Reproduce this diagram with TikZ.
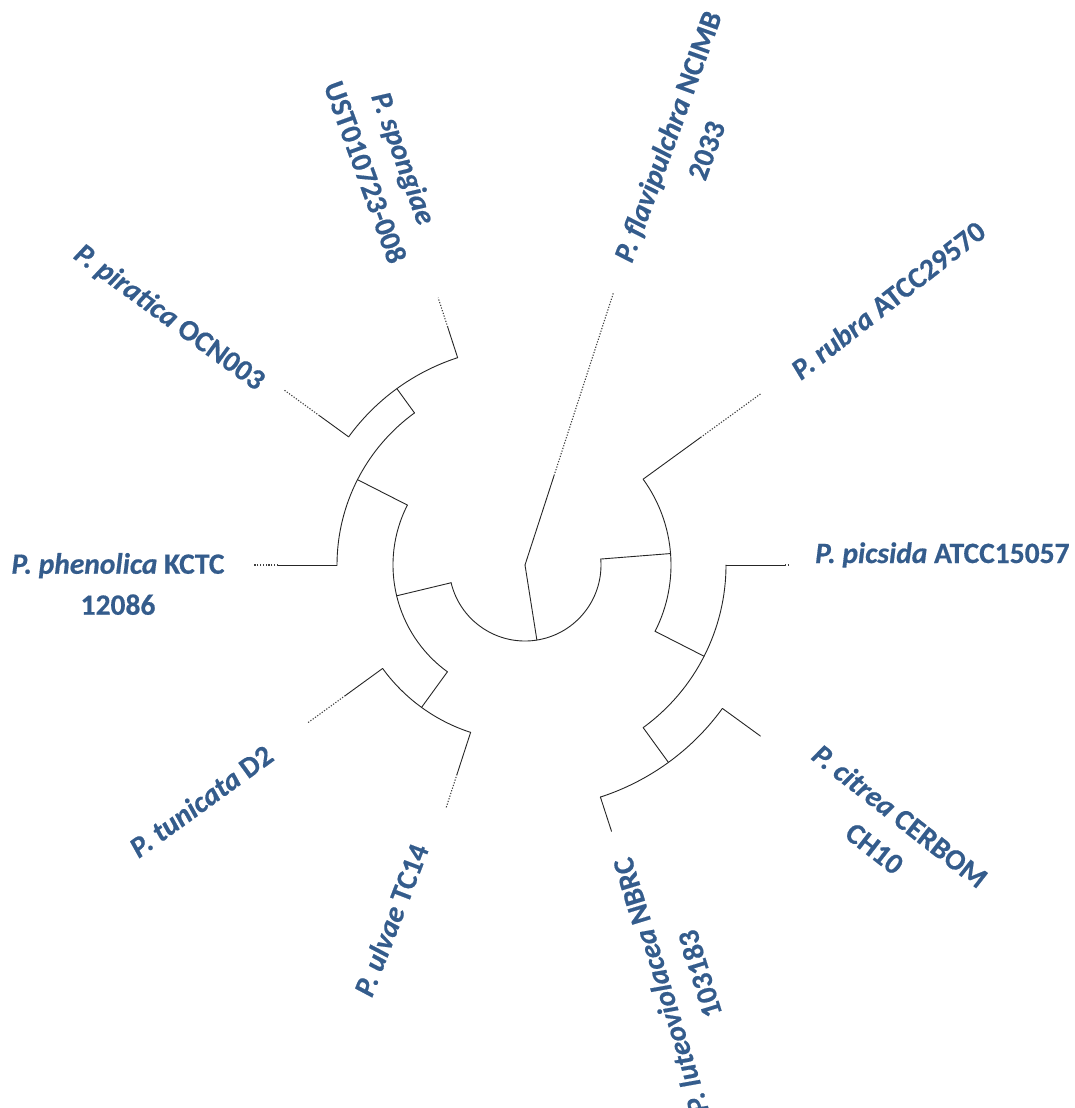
\documentclass[tikz,border=0pt]{standalone}
\usepackage{fontspec}
\newfontfamily\lblfont{Carlito}[BoldFeatures={FakeBold=0.5},BoldItalicFeatures={FakeBold=0.5}]
\definecolor{lblblue}{RGB}{52,92,140}
\begin{document}
\begin{tikzpicture}[x=1pt,y=1pt,
  br/.style={line width=0.9pt, draw=black!85, line cap=round},
  dt/.style={line width=1.1pt, draw=black!75, dash pattern=on 1.2pt off 1.6pt},
  lbl/.style={text=lblblue, font=\lblfont\bfseries\fontsize{29.5}{41}\selectfont, inner sep=0pt, align=center}]
\useasboundingbox (0,0) rectangle (1075,-1108);
\fill[white] (0,0) rectangle (1075,-1108);
\begin{scope}[shift={(525,-565)}]
% root and first split
\coordinate (R) at (0,0);
\coordinate (Bn) at (279:76pt);
\coordinate (Bs) at (193.5:76pt);
\draw[br] (R) -- (Bn);
\draw[br] (Bs) arc[start angle=193.5,end angle=364.5,radius=76pt];
% flavipulchra
\coordinate (flS) at (72:94pt);
\coordinate (flD) at (72:286pt);
\draw[br] (R) -- (flS);
\draw[dt] (flS) -- (flD);
% clade B1
\coordinate (B1a) at (4.5:76pt);
\coordinate (B1n) at (4.5:146pt);
\coordinate (B1s) at (-27:146pt);
\draw[br] (B1a) -- (B1n);
\draw[br] (B1s) arc[start angle=-27,end angle=36,radius=146pt];
% rubra
\coordinate (ruA) at (36:146pt);
\coordinate (ruS) at (36:217pt);
\coordinate (ruD) at (36:292pt);
\draw[br] (ruA) -- (ruS);
\draw[dt] (ruS) -- (ruD);
% clade B1b
\coordinate (B1bn) at (-27:201pt);
\coordinate (B1bs) at (-54:201pt);
\draw[br] (B1s) -- (B1bn);
\draw[br] (B1bs) arc[start angle=-54,end angle=0,radius=201pt];
% picsida
\coordinate (piA) at (0:201pt);
\coordinate (piS) at (0:260pt);
\coordinate (piD) at (0:263pt);
\draw[br] (piA) -- (piS);
\draw[dt] (piS) -- (piD);
% clade B1b2
\coordinate (B2bn) at (-54:244pt);
\coordinate (B2bs) at (-72:244pt);
\draw[br] (B1bs) -- (B2bn);
\draw[br] (B2bs) arc[start angle=-72,end angle=-36,radius=244pt];
% citrea
\coordinate (ciA) at (-36:244pt);
\coordinate (ciS) at (-36:291pt);
\draw[br] (ciA) -- (ciS);
% luteoviolacea
\coordinate (luS) at (-72:280pt);
\draw[br] (B2bs) -- (luS);
% clade B2
\coordinate (B2n) at (193.5:132pt);
\coordinate (B2s) at (153:132pt);
\draw[br] (Bs) -- (B2n);
\draw[br] (B2s) arc[start angle=153,end angle=234,radius=132pt];
% clade B2a
\coordinate (B2an) at (153:188pt);
\coordinate (B2as) at (126:188pt);
\draw[br] (B2s) -- (B2an);
\draw[br] (B2as) arc[start angle=126,end angle=180,radius=188pt];
% phenolica
\coordinate (phA) at (180:188pt);
\coordinate (phS) at (180:247pt);
\coordinate (phD) at (180:272pt);
\draw[br] (phA) -- (phS);
\draw[dt] (phS) -- (phD);
% clade B2a2
\coordinate (B2a2n) at (126:218pt);
\coordinate (B2a2s) at (108:218pt);
\draw[br] (B2as) -- (B2a2n);
\draw[br] (B2a2s) arc[start angle=108,end angle=144,radius=218pt];
% piratica
\coordinate (prA) at (144:218pt);
\coordinate (prS) at (144:254pt);
\coordinate (prD) at (144:298pt);
\draw[br] (prA) -- (prS);
\draw[dt] (prS) -- (prD);
% spongiae
\coordinate (spS) at (108:250pt);
\coordinate (spD) at (108:281pt);
\draw[br] (B2a2s) -- (spS);
\draw[dt] (spS) -- (spD);
% clade B2b
\coordinate (B2ba) at (234:132pt);
\coordinate (B2bbn) at (234:176pt);
\coordinate (B2bbs) at (216:176pt);
\draw[br] (B2ba) -- (B2bbn);
\draw[br] (B2bbs) arc[start angle=216,end angle=252,radius=176pt];
% tunicata
\coordinate (tuS) at (216:222pt);
\coordinate (tuD) at (216:268pt);
\draw[br] (B2bbs) -- (tuS);
\draw[dt] (tuS) -- (tuD);
% ulvae
\coordinate (ulA) at (252:176pt);
\coordinate (ulS) at (252:220pt);
\coordinate (ulD) at (252:255pt);
\draw[br] (ulA) -- (ulS);
\draw[dt] (ulS) -- (ulD);
\end{scope}
% labels
\node[lbl, rotate=70] (Lfl) at (686.7,-143.3) {\textit{P. flavipulchra} NCIMB\\2033};
\node[lbl, rotate=38] (Lru) at (888,-300) {\textit{P. rubra} ATCC29570};
\node[lbl, anchor=base west] (Lpi) at (815,-563) {\textit{P. picsida} ATCC15057};
\node[lbl, rotate=-38] (Lci) at (887.5,-832) {\textit{P. citrea} CERBOM\\CH10};
\node[lbl, rotate=107] (Llu) at (680,-980) {\textit{P. luteoviolacea} NBRC\\103183};
\node[lbl, rotate=69] (Lul) at (391,-920) {\textit{P. ulvae} TC14};
\node[lbl, rotate=36] (Ltu) at (201,-801) {\textit{P. tunicata} D2};
\node[lbl] (Lph) at (118,-584) {\textit{P. phenolica} KCTC\\12086};
\node[lbl, rotate=-36] (Lpr) at (169,-318) {\textit{P. piratica} OCN003};
\node[lbl, rotate=-70] (Lsp) at (385,-165) {\textit{P. spongiae}\\UST010723-008};
\end{tikzpicture}
\end{document}
